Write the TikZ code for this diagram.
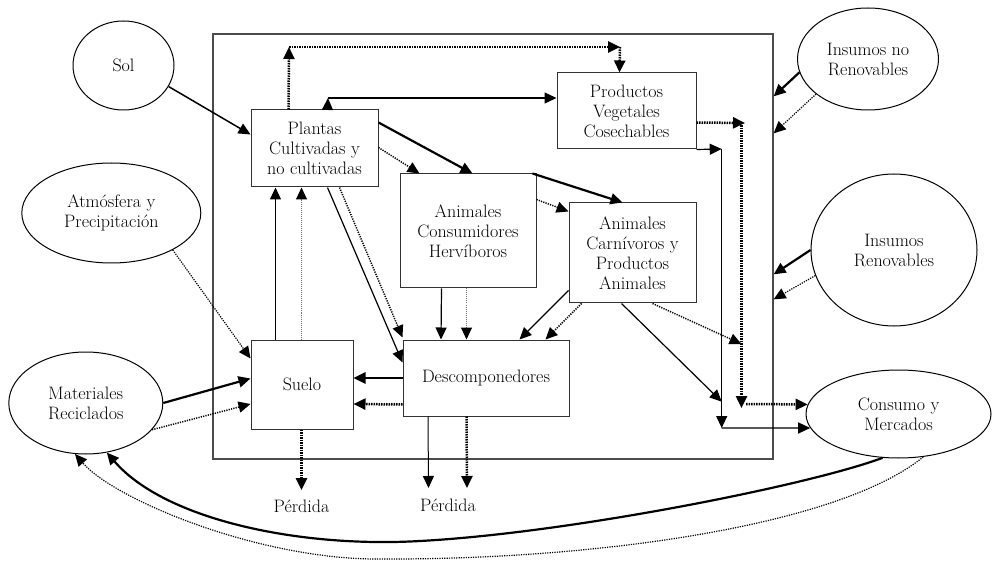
\documentclass[tikz,border=0pt]{standalone}
\usetikzlibrary{arrows.meta,calc,shapes.geometric}
\newcommand\dfont{\fontsize{18}{20}\selectfont}
\begin{document}
\begin{tikzpicture}[x=1pt,y=-1pt,
 box/.style={draw=black!80, line width=1pt, rectangle, inner sep=0pt, align=center, font=\dfont},
 ell/.style={draw=black, line width=1pt, ellipse, inner sep=0pt, align=center, font=\dfont},
 arr/.style={-{Triangle[length=12pt,width=11pt,color=black]}},
 sl/.style={arr, line width=1.2pt},
 sm/.style={arr, line width=1.5pt},
 sk/.style={arr, line width=2.2pt},
 dthin/.style={arr, line width=1pt, dash pattern=on 1pt off 1pt, draw=black!55},
 dmed/.style={arr, line width=1.5pt, dash pattern=on 1.2pt off 1.2pt},
 dthick/.style={arr, line width=2.5pt, dash pattern=on 1.5pt off 1pt},
 lbl/.style={font=\dfont}]
\useasboundingbox (0,0) rectangle (993,561);
% system boundary
\node[draw=black!70, line width=1.3pt, rectangle, minimum width=560pt, minimum height=425pt, inner sep=0pt] (sys) at (493,246.5) {};
% boxes
\node[box, minimum width=127pt, minimum height=77pt] (plantas) at (314.5,148.5) {Plantas\\Cultivadas y\\no cultivadas};
\node[box, minimum width=139pt, minimum height=76pt] (prod) at (626.5,111) {Productos\\Vegetales\\Cosechables};
\node[box, minimum width=136pt, minimum height=114pt] (herb) at (468,231) {Animales\\Consumidores\\Hervíboros};
\node[box, minimum width=127pt, minimum height=100pt] (carn) at (632.5,253) {Animales\\Carnívoros y\\Productos\\Animales};
\node[box, minimum width=166pt, minimum height=76pt] (desc) at (486,378) {Descomponedores};
\node[box, minimum width=102pt, minimum height=89pt] (suelo) at (302,384.5) {Suelo};
% ellipses
\node[ell, minimum width=101pt, minimum height=89pt] (sol) at (123.5,65.5) {Sol};
\node[ell, minimum width=179pt, minimum height=100pt] (atm) at (111.3,213) {Atmósfera y\\Precipitación};
\node[ell, minimum width=154pt, minimum height=102pt] (mat) at (85.8,403) {Materiales\\Reciclados};
\node[ell, minimum width=141pt, minimum height=102pt] (insnr) at (868,59) {Insumos no\\Renovables};
\node[ell, minimum width=166pt, minimum height=152pt] (insr) at (894,250) {Insumos\\Renovables};
\node[ell, minimum width=185pt, minimum height=88pt] (cons) at (898.5,414) {Consumo y\\Mercados};
% labels
\node[lbl] (per1) at (301.5,506) {Pérdida};
\node[lbl] (per2) at (448,505) {Pérdida};
% helper coordinates
\coordinate (c1) at (289,47);
\coordinate (c2) at (620,47);
\coordinate (c3) at (328,98);
\coordinate (p1) at (301.5,490);
\coordinate (p2a) at (428.5,488);
\coordinate (p2b) at (467,488);
\coordinate (q1) at (745,123);
\coordinate (q1b) at (741.5,123);
\coordinate (q2) at (741.5,408);
\coordinate (q3) at (746,404);
\coordinate (q4) at (741.5,344);
\coordinate (r1) at (721.7,149);
\coordinate (r2) at (721.7,428);
\coordinate (r3) at (721.7,401.7);
\coordinate (m1) at (420,541);
\coordinate (m2) at (380,559);
% connectors
\draw[sm] (sol.-25) -- ($(plantas.north west)+(0,25)$);
\draw[dthick] ($(plantas.north west)+(38,0)$) -- (c1);
\draw[dthick] (c1) -- (c2);
\draw[dthick] (c2) -- ($(prod.north west)+(63,0)$);
\draw[sl] ($(plantas.north west)+(77,0)$) -- (c3);
\draw[sl] (c3) -- (c3 -| prod.west);
\draw[sk] ($(plantas.north east)+(0,13)$) -- ($(herb.north west)+(73,0)$);
\draw[dmed] ($(plantas.north east)+(0,38)$) -- ($(herb.north west)+(20,0)$);
\draw[sk] ($(herb.north east)+(-4,0)$) -- ($(carn.north west)+(54,0)$);
\draw[dmed] ($(herb.north east)+(0,26)$) -- ($(carn.north west)+(0,9)$);
\draw[sl] ($(herb.south west)+(42,0)$) -- ($(desc.north west)+(38.5,0)$);
\draw[dthin] ($(herb.south west)+(67,0)$) -- ($(desc.north west)+(64,0)$);
\draw[sl] ($(carn.south west)+(0,-13)$) -- ($(desc.north west)+(117,0)$);
\draw[dmed] ($(carn.south west)+(13,0)$) -- ($(desc.north west)+(143,0)$);
\draw[sl] ($(plantas.south west)+(77,0)$) -- ($(desc.north west)+(0,23)$);
\draw[dmed] ($(plantas.south west)+(89,0)$) -- ($(desc.north west)+(0,-2)$);
\draw[sl] ($(suelo.north west)+(25,0)$) -- ($(plantas.south west)+(25,0)$);
\draw[dthin] ($(suelo.north west)+(51,0)$) -- ($(plantas.south west)+(51,0)$);
\draw[sk, line width=2.5pt] (desc.west) -- (desc.west -| suelo.east);
\draw[dthick] ($(desc.south west)+(0,-12)$) -- ($(suelo.east)+(0,19.5)$);
\draw[dmed, line width=1.2pt] (atm.-31) -- ($(suelo.north west)+(0,19)$);
\draw[sk] (mat.east) -- ($(suelo.west)+(0,-6)$);
\draw[dmed] (mat.-22) -- ($(suelo.west)+(0,19.5)$);
\draw[dthick] ($(suelo.south west)+(51,0)$) -- (p1);
\draw[sl, line width=1pt] ($(desc.south west)+(25.5,0)$) -- (p2a);
\draw[dthick] ($(desc.south west)+(64,0)$) -- (p2b);
\draw[dmed] ($(carn.south west)+(84,0)$) -- (q4);
\draw[sl] ($(carn.south west)+(53,0)$) -- (r3);
\draw[dthick] ($(prod.north east)+(0,50)$) -- (q1);
\draw[dthick] (q1b) -- (q2);
\draw[dthick] (q3) -- (cons.174);
\draw[sl] (prod.south east) -- (r1);
\draw[sl] (r1) -- (r2);
\draw[sl] (r2) -- (cons.189);
\draw[sk] (insnr.191) -- ($(sys.north east)+(0,63)$);
\draw[dmed, line width=1.2pt] (insnr.214) -- ($(sys.north east)+(0,100)$);
\draw[sk] (insr.west) -- ($(sys.north east)+(0,241)$);
\draw[dmed, line width=1.2pt] (insr.198) -- ($(sys.north east)+(0,266)$);
% recycling curves
\draw[sk] (cons.250) .. controls (810,485) and (570,533) .. (m1) .. controls (300,548) and (165,520) .. (mat.-67);
\draw[dmed, line width=1.2pt] (cons.-60) .. controls (840,525) and (600,560) .. (m2) .. controls (260,560) and (115,500) .. (mat.258);
\end{tikzpicture}
\end{document}
